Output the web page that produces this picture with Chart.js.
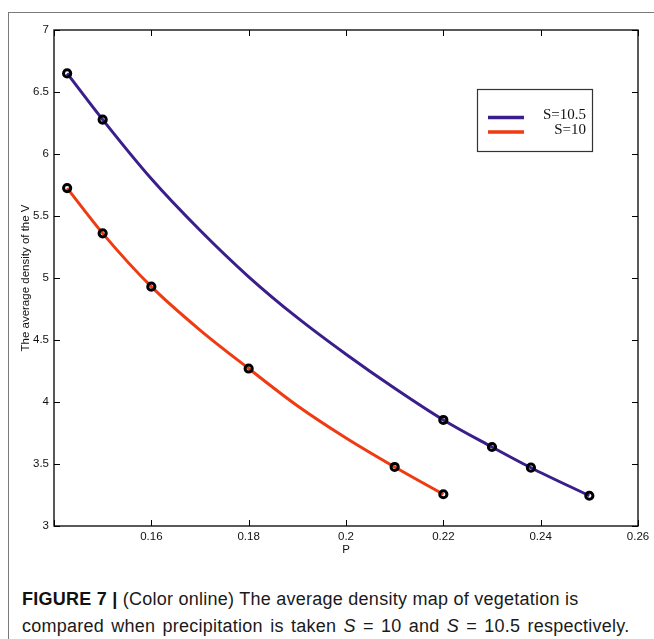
<!DOCTYPE html>
<html>
<head>
<meta charset="utf-8">
<script src="https://cdn.jsdelivr.net/npm/chart.js@4/dist/chart.umd.min.js"></script>
<style>
  html, body { margin: 0; padding: 0; background: #fff; }
  body { width: 654px; height: 639px; position: relative; overflow: hidden; }
  .frame { position: absolute; left: 8px; top: 12px; right: 0; bottom: 0;
           border-top: 1.5px solid #7a7a7a; border-left: 1.5px solid #7a7a7a; }
  .wrap { position: absolute; left: 0; top: 0; width: 654px; height: 570px; }
  .caption { position: absolute; left: 22px; top: 586px; width: 632px;
             font-family: "Liberation Sans", Arial, sans-serif; font-size: 18px;
             line-height: 27px; color: #1a1a1a; white-space: nowrap; }
  .caption .l1 { letter-spacing: 0.25px; }
  .caption .l2 { letter-spacing: 0.25px; word-spacing: 2px; }
  .caption b { color: #111; }
</style>
</head>
<body>
<div class="frame"></div>
<div class="wrap"><canvas id="chart"></canvas></div>
<div class="caption"><span class="l1"><b>FIGURE 7 |</b> (Color online) The average density map of vegetation is</span><br><span class="l2">compared when precipitation is taken <i>S</i> = 10 and <i>S</i> = 10.5 respectively.</span></div>

<script>
// values
const pMarksS105 = [0.1427, 0.15, 0.22, 0.23, 0.238, 0.25];
const vMarksS105 = [6.65, 6.277, 3.855, 3.637, 3.47, 3.244];
const pMarksS10 = [0.1427, 0.15, 0.16, 0.18, 0.21, 0.22];
const vMarksS10 = [5.725, 5.36, 4.93, 4.27, 3.476, 3.256];

// points along the drawn curves
const pCurveS105 = [0.1427, 0.15, 0.16, 0.17, 0.18, 0.19, 0.20, 0.21, 0.22, 0.23, 0.238, 0.25];
const vCurveS105 = [6.65, 6.277, 5.80, 5.385, 5.01, 4.68, 4.385, 4.11, 3.855, 3.637, 3.47, 3.244];
const pCurveS10 = [0.1427, 0.15, 0.16, 0.17, 0.18, 0.19, 0.20, 0.21, 0.22];
const vCurveS10 = [5.725, 5.36, 4.93, 4.58, 4.27, 3.97, 3.71, 3.476, 3.256];

const xTicks = [0.14, 0.16, 0.18, 0.2, 0.22, 0.24, 0.26];
const yTicks = [3, 3.5, 4, 4.5, 5, 5.5, 6, 6.5, 7];

const seriesLabels = ['S=10.5', 'S=10'];
const blue = 'rgb(58, 30, 140)';
const red = 'rgb(240, 58, 18)';

const toXY = (xs, ys) => xs.map((x, i) => ({x: x, y: ys[i]}));

// inward ticks + box, like the original figure
const boxTicks = {
    id: 'boxTicks',
    afterDraw(chart) {
        const {ctx, chartArea: a, scales: {x, y}} = chart;
        ctx.save();
        ctx.strokeStyle = '#000';
        ctx.lineWidth = 1;
        xTicks.forEach(v => {
            const px = Math.round(x.getPixelForValue(v)) + 0.5;
            ctx.beginPath();
            ctx.moveTo(px, a.bottom); ctx.lineTo(px, a.bottom - 6);
            ctx.moveTo(px, a.top); ctx.lineTo(px, a.top + 6);
            ctx.stroke();
        });
        yTicks.forEach(v => {
            const py = Math.round(y.getPixelForValue(v)) + 0.5;
            ctx.beginPath();
            ctx.moveTo(a.left, py); ctx.lineTo(a.left + 6, py);
            ctx.moveTo(a.right, py); ctx.lineTo(a.right - 6, py);
            ctx.stroke();
        });
        ctx.lineWidth = 1.3;
        ctx.strokeRect(a.left, a.top, a.right - a.left, a.bottom - a.top);
        ctx.restore();
    }
};

// legend box in the upper right
const boxLegend = {
    id: 'boxLegend',
    afterDraw(chart) {
        const ctx = chart.ctx;
        const lines = chart.data.datasets.filter(d => d.type === 'line');
        ctx.save();
        ctx.fillStyle = '#fff';
        ctx.fillRect(477, 89, 115, 62);
        ctx.strokeStyle = '#333';
        ctx.lineWidth = 1.2;
        ctx.strokeRect(477.5, 89.5, 115, 62);
        ctx.font = '15px "Liberation Serif", "Times New Roman", serif';
        ctx.textAlign = 'right';
        ctx.textBaseline = 'alphabetic';
        lines.forEach((d, i) => {
            const ly = 117.5 + i * 14.5;
            ctx.strokeStyle = d.borderColor;
            ctx.lineWidth = 3.5;
            ctx.beginPath();
            ctx.moveTo(488, ly); ctx.lineTo(524, ly);
            ctx.stroke();
            ctx.fillStyle = '#111';
            ctx.fillText(d.label, 586, 119 + i * 15);
        });
        ctx.restore();
    }
};

const tickFont = {family: '"Liberation Sans", Arial, sans-serif', size: 11.5};

new Chart(document.getElementById('chart'), {
    data: {
        datasets: [
            {
                type: 'scatter', label: 'marks S=10.5', data: toXY(pMarksS105, vMarksS105),
                pointRadius: 3.6, pointBorderWidth: 3, pointBorderColor: '#000',
                pointBackgroundColor: 'rgba(0,0,0,0)', order: 0
            },
            {
                type: 'scatter', label: 'marks S=10', data: toXY(pMarksS10, vMarksS10),
                pointRadius: 3.6, pointBorderWidth: 3, pointBorderColor: '#000',
                pointBackgroundColor: 'rgba(0,0,0,0)', order: 1
            },
            {
                type: 'line', label: seriesLabels[0], data: toXY(pCurveS105, vCurveS105),
                borderColor: blue, borderWidth: 3, pointRadius: 0,
                cubicInterpolationMode: 'monotone', fill: false, order: 2
            },
            {
                type: 'line', label: seriesLabels[1], data: toXY(pCurveS10, vCurveS10),
                borderColor: red, borderWidth: 3, pointRadius: 0,
                cubicInterpolationMode: 'monotone', fill: false, order: 3
            }
        ]
    },
    options: {
        responsive: true,
        maintainAspectRatio: false,
        animation: false,
        layout: {padding: {left: 0, top: 30, right: 16, bottom: 0}},
        plugins: {legend: {display: false}, tooltip: {enabled: false}},
        scales: {
            x: {
                type: 'linear', min: 0.14, max: 0.26,
                afterBuildTicks: s => { s.ticks = xTicks.map(v => ({value: v})); },
                afterFit: s => { s.height = 44; },
                grid: {display: false, drawTicks: false},
                border: {display: false},
                ticks: {
                    color: '#111', font: tickFont, padding: 4, maxRotation: 0, autoSkip: false,
                    callback: v => (Math.abs(v - 0.14) < 1e-9 ? '' : String(+v.toFixed(2)))
                },
                title: {display: true, text: 'P', color: '#111', font: tickFont, padding: {top: 0, bottom: 13}}
            },
            y: {
                type: 'linear', min: 3, max: 7,
                afterBuildTicks: s => { s.ticks = yTicks.map(v => ({value: v})); },
                afterFit: s => { s.width = 54; },
                grid: {display: false, drawTicks: false},
                border: {display: false},
                ticks: {color: '#111', font: tickFont, padding: 5, autoSkip: false,
                    callback: v => String(v)},
                title: {display: true, text: 'The average density of the V', color: '#111',
                    font: tickFont, padding: {top: 19, bottom: 0}}
            }
        }
    },
    plugins: [boxTicks, boxLegend]
});
</script>
</body>
</html>
